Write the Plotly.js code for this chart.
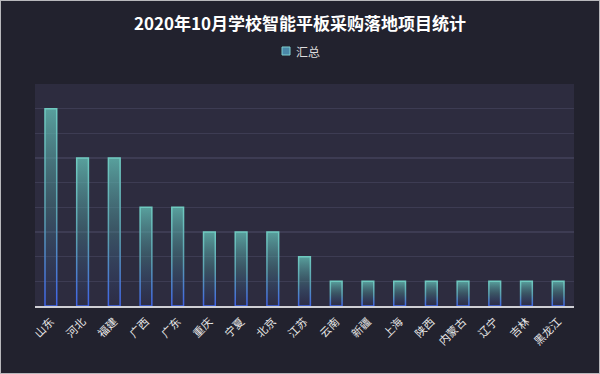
<!DOCTYPE html>
<html><head><meta charset="utf-8">
<script src="https://cdn.plot.ly/plotly-3.0.1.min.js"></script>
<style>
html,body{margin:0;padding:0;background:#22222e;}
#wrap{position:relative;width:600px;height:374px;}
#chart{width:600px;height:374px;}
#frame{position:absolute;left:0;top:0;width:600px;height:374px;box-sizing:border-box;border:1px solid #b8b8bc;pointer-events:none;}
</style></head>
<body>
<div id="wrap"><div id="chart"></div><div id="frame"></div></div>
<script>
const provinces = ['山东','河北','福建','广西','广东','重庆','宁夏','北京','江苏','云南','新疆','上海','陕西','内蒙古','辽宁','吉林','黑龙江'];
const totals = [8,6,6,4,4,3,3,3,2,1,1,1,1,1,1,1,1];
const seriesName = '汇总';
const chartTitle = '2020年10月学校智能平板采购落地项目统计';

const font = '"Noto Sans CJK SC", "Noto Sans", sans-serif';
const data = [{
  type:'bar', x:provinces, y:totals, name:seriesName, showlegend:false,
  marker:{color:'rgba(95,180,172,0.6)', line:{color:'#66c2b8', width:1.5}},
  hoverinfo:'x+y'
}];
// plot area: x 35..574 px, y 84..306 px
const layout = {
  width:600, height:374,
  paper_bgcolor:'#22222e', plot_bgcolor:'#2d2c3f',
  margin:{l:35, r:26, t:84, b:68},
  bargap:0.63,
  title:{text:chartTitle, font:{family:font, size:17, color:'#ffffff', weight:'bold'}, x:0.5, xanchor:'center', y:0.935, yanchor:'middle'},
  showlegend:false,
  shapes:[{type:'rect', xref:'paper', yref:'paper', x0:0.4583, x1:0.4731, y0:1.1306, y1:1.1667,
           fillcolor:'#4a88a8', line:{color:'#7fd0d0', width:1}}],
  annotations:[{text:seriesName, xref:'paper', yref:'paper', x:0.4805, y:1.1486, xanchor:'left', yanchor:'middle',
                showarrow:false, font:{family:font, size:12, color:'#dddddd'}}],
  xaxis:{tickangle:-45, tickfont:{family:font, size:11, color:'#e8e8e8'}, ticklabelstandoff:3, showline:true, linecolor:'#cfcfd4', linewidth:2, ticks:'', showgrid:false, fixedrange:true},
  yaxis:{range:[0,9], dtick:1, showticklabels:false, gridcolor:'#3d3c53', gridwidth:1.5, zeroline:false, showline:false, fixedrange:true}
};
Plotly.newPlot('chart', data, layout, {displayModeBar:false, staticPlot:true}).then(function(gd){
  const svg = gd.querySelector('.main-svg');
  let defs = svg.querySelector('defs');
  const NS = 'http://www.w3.org/2000/svg';
  function grad(id, stops){
    const g = document.createElementNS(NS,'linearGradient');
    g.setAttribute('id',id); g.setAttribute('x1','0'); g.setAttribute('y1','0'); g.setAttribute('x2','0'); g.setAttribute('y2','1');
    stops.forEach(s=>{const st=document.createElementNS(NS,'stop'); st.setAttribute('offset',s[0]); st.setAttribute('stop-color',s[1]); st.setAttribute('stop-opacity',s[2]); g.appendChild(st);});
    defs.appendChild(g);
  }
  grad('barFill', [['0','#63bdb4','0.8'],['0.5','#4a8590','0.45'],['1','#3a56b0','0.05']]);
  grad('barStroke', [['0','#6fcac0','1'],['0.55','#5a9fb0','1'],['1','#3f63e6','1']]);
  gd.querySelectorAll('.barlayer .point path').forEach(p=>{
    p.style.fill='url(#barFill)'; p.style.fillOpacity='1';
    p.style.stroke='url(#barStroke)'; p.style.strokeOpacity='1';
  });
});
</script>
</body></html>
